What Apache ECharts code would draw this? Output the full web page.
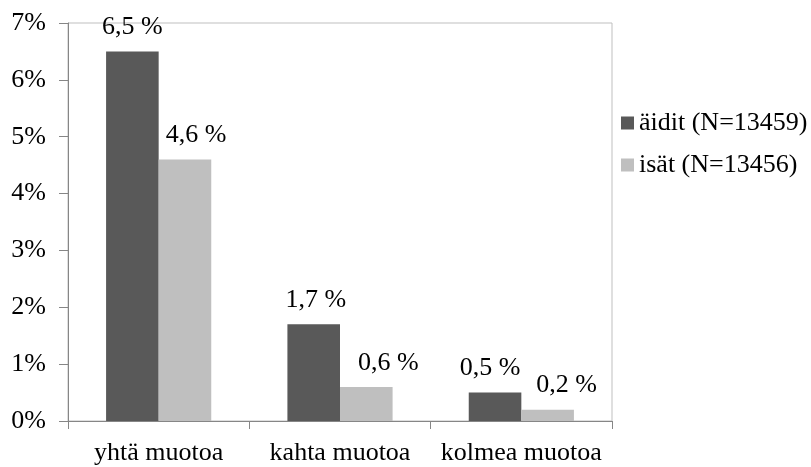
<!DOCTYPE html>
<html>
<head>
<meta charset="utf-8">
<script src="https://cdn.jsdelivr.net/npm/echarts@6/dist/echarts.min.js"></script>
<style>html,body{margin:0;padding:0;background:#fff;}#c{width:811px;height:467px;}</style>
</head>
<body>
<div id="c"></div>
<script>
const categories = ['yhtä muotoa', 'kahta muotoa', 'kolmea muotoa'];
const seriesNames = ['äidit (N=13459)', 'isät (N=13456)'];
const aiditValues = [6.5, 1.7, 0.5];
const isatValues = [4.6, 0.6, 0.2];
const yTicks = [0, 1, 2, 3, 4, 5, 6, 7];

// label nudges (styling only, in px) to mimic the original label placement
const aiditLabelShift = [0, 2, -5];
const isatLabelShift = [11, 22, 19];

const FONT = "'Liberation Serif', 'Times New Roman', serif";
const FS = 26;
const fmt = p => p.value.toFixed(1).replace('.', ',') + ' %';

function withLabels(values, shifts) {
  return values.map((v, i) => ({value: v, label: {offset: [shifts[i], 0]}}));
}

const chart = echarts.init(document.getElementById('c'), null, {renderer: 'canvas'});
chart.setOption({
  animation: false,
  backgroundColor: '#ffffff',
  grid: {left: 68, right: 199, top: 23, bottom: 46, show: true, borderColor: '#bfbfbf', borderWidth: 1},
  legend: {
    orient: 'vertical', left: 616, top: 105,
    itemWidth: 13, itemHeight: 13, itemGap: 16, icon: 'rect',
    textStyle: {fontFamily: FONT, fontSize: FS, color: '#000'},
    data: seriesNames
  },
  xAxis: {
    type: 'category', data: categories,
    axisLine: {lineStyle: {color: '#868686', width: 1}},
    axisTick: {show: true, alignWithLabel: false, length: 8, lineStyle: {color: '#868686'}},
    axisLabel: {interval: 0, fontFamily: FONT, fontSize: FS, color: '#000', margin: 19}
  },
  yAxis: {
    type: 'value', min: yTicks[0], max: yTicks[yTicks.length - 1], interval: 1,
    axisLine: {show: true, lineStyle: {color: '#868686', width: 1}},
    axisTick: {show: true, length: 9, lineStyle: {color: '#868686'}},
    splitLine: {show: false},
    axisLabel: {fontFamily: FONT, fontSize: FS, color: '#000', margin: 22, formatter: '{value}%'}
  },
  series: [
    {name: seriesNames[0], type: 'bar', data: withLabels(aiditValues, aiditLabelShift), barGap: '0%', barCategoryGap: '42%',
     itemStyle: {color: '#595959'},
     label: {show: true, position: 'top', distance: 11, formatter: fmt, fontFamily: FONT, fontSize: FS, color: '#000'}},
    {name: seriesNames[1], type: 'bar', data: withLabels(isatValues, isatLabelShift), barGap: '0%', barCategoryGap: '42%',
     itemStyle: {color: '#bfbfbf'},
     label: {show: true, position: 'top', distance: 11, formatter: fmt, fontFamily: FONT, fontSize: FS, color: '#000'}}
  ]
});
</script>
</body>
</html>
